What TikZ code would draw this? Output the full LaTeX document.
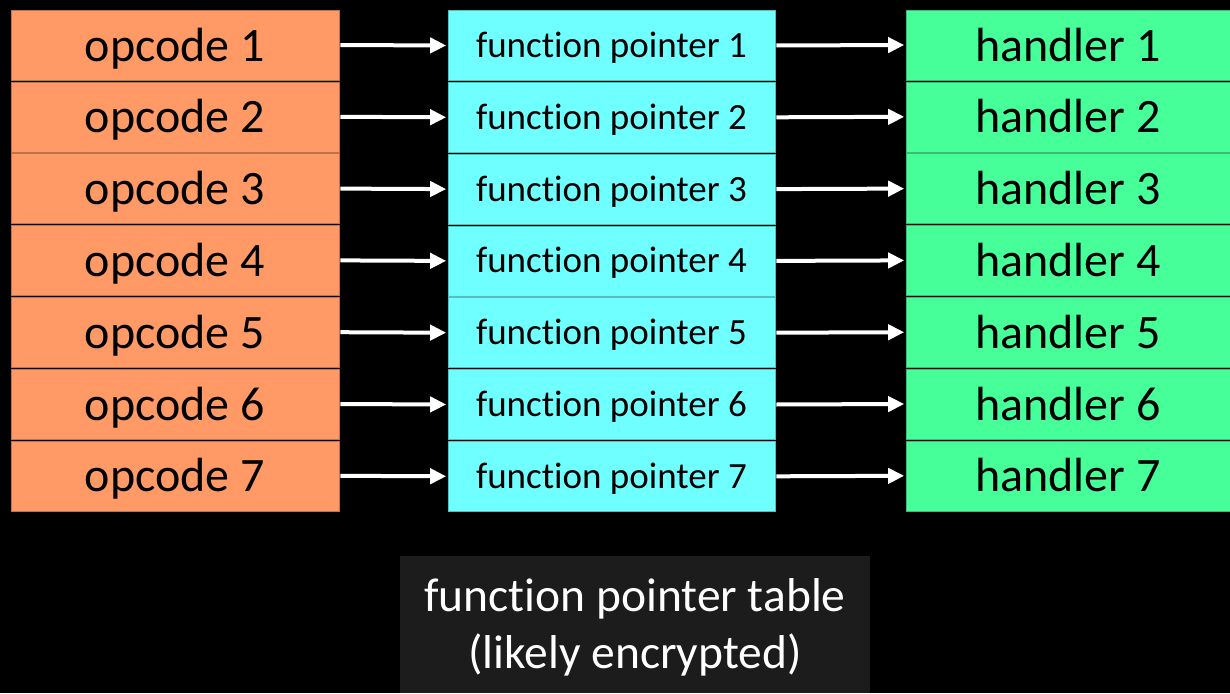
\documentclass[tikz,border=0pt]{standalone}
\usepackage{fontspec}
\setmainfont{Carlito}[Ligatures=NoCommon]
\usepackage{tikz}
\usetikzlibrary{shapes,arrows.meta}
\definecolor{opcodeorange}{RGB}{255,153,102}
\definecolor{pointercyan}{RGB}{111,255,255}
\definecolor{handlergreen}{RGB}{71,255,153}
\definecolor{captiongray}{RGB}{28,28,28}
\newcommand{\opcodenode}[3] {\node at (#1) (#2) [rectangle, fill=opcodeorange, draw=opcodeorange!75!black, line width=0.6pt, minimum width=328pt, minimum height=70pt, inner sep=0pt, text height=32pt, text depth=0pt, font=\fontsize{48}{52}\selectfont] {#3};}
\newcommand{\pointernode}[3] {\node at (#1) (#2) [rectangle, fill=pointercyan, draw=pointercyan!75!black, line width=0.6pt, minimum width=327pt, minimum height=70pt, inner sep=0pt, text height=24pt, text depth=0pt, font=\fontsize{37}{40}\selectfont] {#3};}
\newcommand{\handlernode}[3] {\node at (#1) (#2) [rectangle, fill=handlergreen, draw=handlergreen!75!black, line width=0.6pt, minimum width=324pt, minimum height=70pt, inner sep=0pt, text height=32pt, text depth=0pt, font=\fontsize{48}{52}\selectfont] {#3};}
\newcommand{\tablearrow}[2] {\draw [-{Triangle[length=16pt,width=15pt]}, white, line width=4pt, shorten <=1pt, shorten >=1.5pt] (#1.east) -- (#2.west);}

\begin{document}
\begin{tikzpicture}[x=1pt,y=-1pt]

\fill [black] (0,0) rectangle (1230,693);
\useasboundingbox (0,0) rectangle (1230,693);

\opcodenode {175,45}{op1}{opcode 1};
\opcodenode {175,116.8}{op2}{opcode 2};
\opcodenode {175,188.6}{op3}{opcode 3};
\opcodenode {175,260.4}{op4}{opcode 4};
\opcodenode {175,332.2}{op5}{opcode 5};
\opcodenode {175,404}{op6}{opcode 6};
\opcodenode {175,475.8}{op7}{opcode 7};

\pointernode {611.5,45.5}{fp1}{function pointer 1};
\pointernode {611.5,117.3}{fp2}{function pointer 2};
\pointernode {611.5,189.1}{fp3}{function pointer 3};
\pointernode {611.5,260.9}{fp4}{function pointer 4};
\pointernode {611.5,332.7}{fp5}{function pointer 5};
\pointernode {611.5,404.5}{fp6}{function pointer 6};
\pointernode {611.5,476.3}{fp7}{function pointer 7};

\handlernode {1068,45}{h1}{handler 1};
\handlernode {1068,116.8}{h2}{handler 2};
\handlernode {1068,188.6}{h3}{handler 3};
\handlernode {1068,260.4}{h4}{handler 4};
\handlernode {1068,332.2}{h5}{handler 5};
\handlernode {1068,404}{h6}{handler 6};
\handlernode {1068,475.8}{h7}{handler 7};

\tablearrow{op1}{fp1};
\tablearrow{op2}{fp2};
\tablearrow{op3}{fp3};
\tablearrow{op4}{fp4};
\tablearrow{op5}{fp5};
\tablearrow{op6}{fp6};
\tablearrow{op7}{fp7};

\tablearrow{fp1}{h1};
\tablearrow{fp2}{h2};
\tablearrow{fp3}{h3};
\tablearrow{fp4}{h4};
\tablearrow{fp5}{h5};
\tablearrow{fp6}{h6};
\tablearrow{fp7}{h7};

\node at (635,624) (caption) [rectangle, fill=captiongray, minimum width=470pt, minimum height=137pt, inner sep=0pt, align=center, text=white, text height=88pt, text depth=0pt, font=\fontsize{47.5}{57}\selectfont] {function pointer table\\(likely encrypted)};

\end{tikzpicture}
\end{document}
